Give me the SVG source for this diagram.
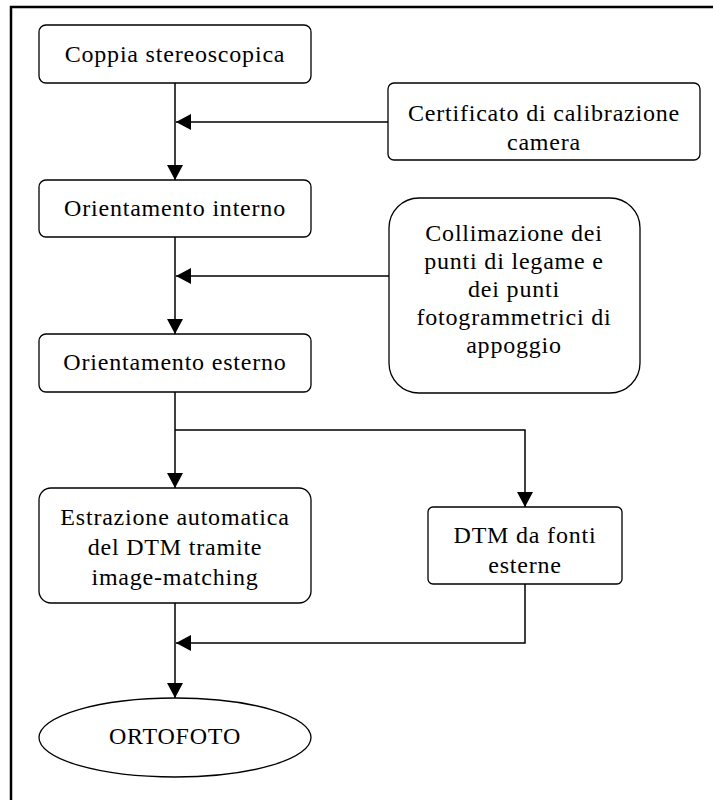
<svg xmlns="http://www.w3.org/2000/svg" width="713" height="800" viewBox="0 0 713 800">
  <style>
    .box { fill: #ffffff; stroke: #000000; stroke-width: 1.3; }
    .lbl { font-family: "Liberation Serif", "Times New Roman", serif; font-size: 24px; letter-spacing: 0.8px; fill: #000000; text-anchor: middle; }
    .wire { fill: none; stroke: #000000; stroke-width: 1.5; }
    .frame { fill: none; stroke: #000000; stroke-width: 2.5; }
  </style>
  <defs>
    <marker id="arrow" markerUnits="userSpaceOnUse" markerWidth="17" markerHeight="17" viewBox="0 0 17 17" refX="15" refY="8.5" orient="auto">
      <path d="M0,0.5 L15,8.5 L0,16.5 z" fill="#000000"/>
    </marker>
  </defs>
  <rect x="0" y="0" width="713" height="800" fill="#ffffff"/>

  <!-- page frame (top and left edges) -->
  <path class="frame" d="M11,800 L11,7 L713,7"/>

  <!-- connectors -->
  <g id="connectors">
    <path class="wire" d="M175,83 L175,180" marker-end="url(#arrow)"/>
    <path class="wire" d="M388,122 L176,122" marker-end="url(#arrow)"/>
    <path class="wire" d="M175,237 L175,334" marker-end="url(#arrow)"/>
    <path class="wire" d="M389,276 L176,276" marker-end="url(#arrow)"/>
    <path class="wire" d="M175,392 L175,488" marker-end="url(#arrow)"/>
    <path class="wire" d="M175,430 L525,430 L525,507" marker-end="url(#arrow)"/>
    <path class="wire" d="M175,603 L175,698" marker-end="url(#arrow)"/>
    <path class="wire" d="M525,584 L525,643 L176,643" marker-end="url(#arrow)"/>
  </g>

  <g id="coppia">
    <rect class="box" x="39" y="25" width="272" height="58" rx="7"/>
    <text class="lbl" x="175" y="62">Coppia stereoscopica</text>
  </g>

  <g id="certificato">
    <rect class="box" x="388" y="83" width="312" height="77" rx="6"/>
    <text class="lbl" x="544" y="121">Certificato di calibrazione</text>
    <text class="lbl" x="544" y="150">camera</text>
  </g>

  <g id="orient-interno">
    <rect class="box" x="39" y="180" width="272" height="57" rx="7"/>
    <text class="lbl" x="175" y="216">Orientamento interno</text>
  </g>

  <g id="collimazione">
    <rect class="box" x="389" y="198" width="251" height="195" rx="30"/>
    <text class="lbl" x="514" y="241">Collimazione dei</text>
    <text class="lbl" x="514" y="269">punti di legame e</text>
    <text class="lbl" x="514" y="297">dei punti</text>
    <text class="lbl" x="514" y="325">fotogrammetrici di</text>
    <text class="lbl" x="514" y="353">appoggio</text>
  </g>

  <g id="orient-esterno">
    <rect class="box" x="39" y="334" width="272" height="58" rx="7"/>
    <text class="lbl" x="175" y="370">Orientamento esterno</text>
  </g>

  <g id="estrazione">
    <rect class="box" x="39" y="488" width="272" height="115" rx="12"/>
    <text class="lbl" x="175" y="525">Estrazione automatica</text>
    <text class="lbl" x="175" y="555">del DTM tramite</text>
    <text class="lbl" x="175" y="585">image-matching</text>
  </g>

  <g id="dtm-esterno">
    <rect class="box" x="428" y="507" width="194" height="77" rx="5"/>
    <text class="lbl" x="525" y="543">DTM da fonti</text>
    <text class="lbl" x="525" y="573">esterne</text>
  </g>

  <g id="ortofoto">
    <ellipse class="box" cx="175" cy="737.5" rx="136" ry="39.5"/>
    <text class="lbl" x="175" y="744">ORTOFOTO</text>
  </g>
</svg>
